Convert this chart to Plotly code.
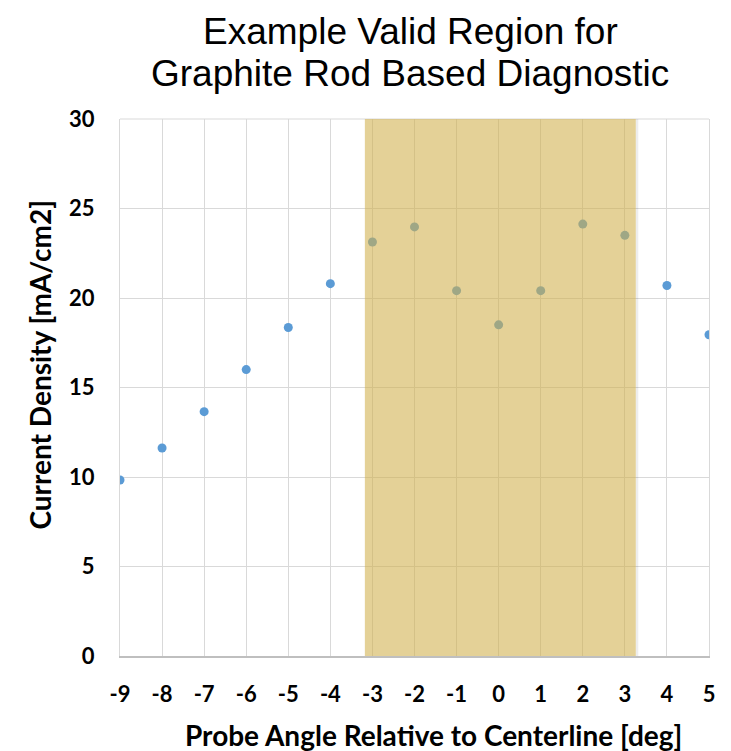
import plotly.graph_objects as go

angles = [-9, -8, -7, -6, -5, -4, -3, -2, -1, 0, 1, 2, 3, 4, 5]
current_density = [9.83, 11.62, 13.65, 16.0, 18.35, 20.8, 23.13, 23.97, 20.41, 18.5, 20.41, 24.13, 23.5, 20.7, 17.95]
valid_region = [-3.18, 3.26]
x_ticks = list(range(-9, 6))
y_ticks = [0, 5, 10, 15, 20, 25, 30]
title_lines = ["Example Valid Region for", "Graphite Rod Based Diagnostic"]
x_title = "Probe Angle Relative to Centerline [deg]"
y_title = "Current Density [mA/cm2]"

tick_font = dict(family="Lato", size=22, color="#000000")

fig = go.Figure()
fig.add_trace(go.Scatter(
    x=angles, y=current_density, mode="markers",
    marker=dict(color="#5b9bd5", size=9),
    showlegend=False,
))

# faint shadow on the right edge of the shaded region
fig.add_shape(type="rect", xref="x", yref="y",
              x0=valid_region[1], x1=valid_region[1] + 0.06, y0=0, y1=30,
              fillcolor="rgba(0,0,0,0.07)", line=dict(width=0), layer="above")
fig.add_shape(type="rect", xref="x", yref="y",
              x0=valid_region[0], x1=valid_region[1], y0=0, y1=30,
              fillcolor="rgb(208,176,76)", opacity=0.58,
              line=dict(width=0), layer="above")
# top border of the plot area
fig.add_shape(type="line", xref="paper", yref="paper", x0=0, x1=1, y0=1, y1=1,
              line=dict(color="#d9d9d9", width=1), layer="below")

title_font = dict(family="Liberation Sans", size=37, color="#000000")
fig.add_annotation(text=title_lines[0], xref="paper", yref="paper", x=0.4924, y=1.2045,
                   xanchor="center", yanchor="top", showarrow=False, font=title_font)
fig.add_annotation(text=title_lines[1], xref="paper", yref="paper", x=0.4924, y=1.0845,
                   xanchor="center", yanchor="middle", showarrow=False, font=title_font)
fig.add_annotation(text="<b>%s</b>" % x_title, xref="paper", yref="paper", x=0.532, y=-0.1475,
                   xanchor="center", yanchor="middle", showarrow=False,
                   font=dict(family="Lato", size=28, color="#000000"))
fig.add_annotation(text="<b>%s</b>" % y_title, xref="paper", yref="paper", x=-0.1358, y=0.5428,
                   xanchor="center", yanchor="middle", showarrow=False, textangle=-90,
                   font=dict(family="Lato", size=28, color="#000000"))

fig.update_layout(
    width=731, height=751,
    paper_bgcolor="white", plot_bgcolor="white",
    margin=dict(l=112, r=30, t=111, b=103),
)
fig.update_xaxes(
    range=[-9, 5], tickvals=x_ticks, ticktext=["<b>%d</b>" % v for v in x_ticks],
    tickfont=tick_font, showgrid=True, gridcolor="#d9d9d9", gridwidth=1,
    showline=True, linecolor="#bfbfbf", linewidth=1.5, mirror=False, zeroline=False,
    ticks="", ticklabelstandoff=18,
)
fig.update_yaxes(
    range=[0, 30], tickvals=y_ticks, ticktext=["<b>%d</b>" % v for v in y_ticks],
    tickfont=tick_font, showgrid=True, gridcolor="#d9d9d9", gridwidth=1,
    showline=True, linecolor="#d9d9d9", mirror=True, zeroline=False,
    ticks="", ticklabelstandoff=20,
)

fig.write_html("out.html")
